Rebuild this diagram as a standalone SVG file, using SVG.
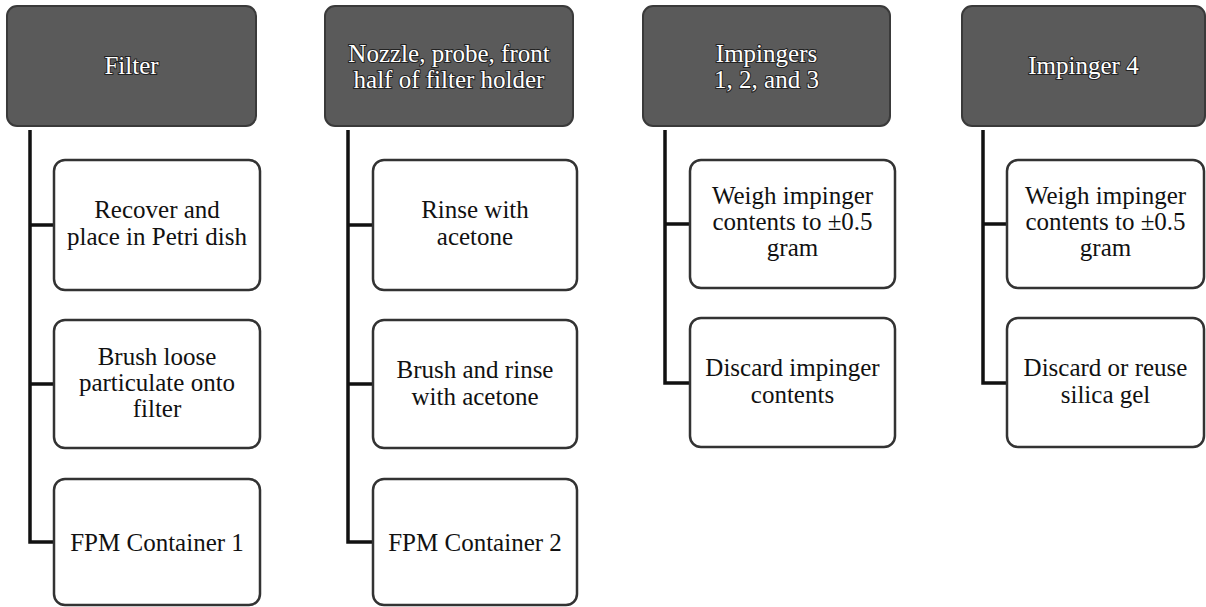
<svg xmlns="http://www.w3.org/2000/svg" width="1206" height="607" viewBox="0 0 1206 607">
<style>
.hdr{fill:#5a5a5a;stroke:#3a3a3a;stroke-width:2}
.box{fill:#fff;stroke:#333;stroke-width:2.5}
.ht{font-family:"Liberation Serif","Times New Roman",serif;font-size:25px;fill:#fff;stroke:#222;stroke-width:2;paint-order:stroke;text-anchor:middle}
.bt{font-family:"Liberation Serif","Times New Roman",serif;font-size:25px;fill:#111;text-anchor:middle}
.conn{fill:none;stroke:#111;stroke-width:3.5;stroke-linejoin:miter}
</style>
<rect width="1206" height="607" fill="#fff"/>
<g id="connectors">
<path class="conn" d="M30,130 V542 H53 M30,225 H53 M30,384 H53"/>
<path class="conn" d="M348,130 V542 H372 M348,225 H372 M348,384 H372"/>
<path class="conn" d="M665,130 V383 H690 M665,224 H690"/>
<path class="conn" d="M983,130 V383 H1007 M983,224 H1007"/>
</g>
<g id="n-filter"><rect class="hdr" x="7" y="6" width="249" height="120" rx="10"/><text class="ht" x="131.5" y="74">Filter</text></g>
<g id="n-recover"><rect class="box" x="54" y="160" width="206" height="130" rx="11"/><text class="bt" x="157" y="218">Recover and</text><text class="bt" x="157" y="245">place in Petri dish</text></g>
<g id="n-brush"><rect class="box" x="54" y="320" width="206" height="128" rx="11"/><text class="bt" x="157" y="365">Brush loose</text><text class="bt" x="157" y="391">particulate onto</text><text class="bt" x="157" y="417">filter</text></g>
<g id="n-fpm1"><rect class="box" x="54" y="479" width="206" height="126" rx="11"/><text class="bt" x="157" y="551">FPM Container 1</text></g>
<g id="n-nozzle"><rect class="hdr" x="325" y="6" width="248" height="120" rx="10"/><text class="ht" x="449" y="62">Nozzle, probe, front</text><text class="ht" x="449" y="88">half of filter holder</text></g>
<g id="n-rinse"><rect class="box" x="373" y="160" width="204" height="130" rx="11"/><text class="bt" x="475" y="218">Rinse with</text><text class="bt" x="475" y="245">acetone</text></g>
<g id="n-brushrinse"><rect class="box" x="373" y="320" width="204" height="128" rx="11"/><text class="bt" x="475" y="378">Brush and rinse</text><text class="bt" x="475" y="405">with acetone</text></g>
<g id="n-fpm2"><rect class="box" x="373" y="479" width="204" height="126" rx="11"/><text class="bt" x="475" y="551">FPM Container 2</text></g>
<g id="n-imp123"><rect class="hdr" x="643" y="6" width="247" height="120" rx="10"/><text class="ht" x="766.5" y="62">Impingers</text><text class="ht" x="766.5" y="88">1, 2, and 3</text></g>
<g id="n-weigh1"><rect class="box" x="690" y="160" width="205" height="128" rx="11"/><text class="bt" x="792.5" y="204">Weigh impinger</text><text class="bt" x="792.5" y="230">contents to ±0.5</text><text class="bt" x="792.5" y="256">gram</text></g>
<g id="n-discard1"><rect class="box" x="690" y="318" width="205" height="129" rx="11"/><text class="bt" x="792.5" y="376">Discard impinger</text><text class="bt" x="792.5" y="403">contents</text></g>
<g id="n-imp4"><rect class="hdr" x="962" y="6" width="243" height="120" rx="10"/><text class="ht" x="1083.5" y="74">Impinger 4</text></g>
<g id="n-weigh2"><rect class="box" x="1007" y="160" width="197" height="128" rx="11"/><text class="bt" x="1105.5" y="204">Weigh impinger</text><text class="bt" x="1105.5" y="230">contents to ±0.5</text><text class="bt" x="1105.5" y="256">gram</text></g>
<g id="n-discard2"><rect class="box" x="1007" y="318" width="197" height="129" rx="11"/><text class="bt" x="1105.5" y="376">Discard or reuse</text><text class="bt" x="1105.5" y="403">silica gel</text></g>
</svg>
